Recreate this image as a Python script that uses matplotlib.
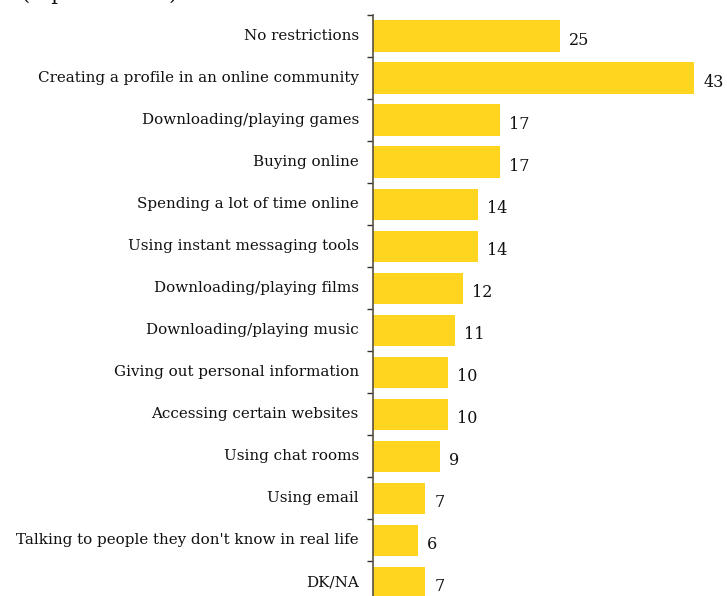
import matplotlib
matplotlib.use("Agg")
import matplotlib.pyplot as plt

categories = ["No restrictions", "Creating a profile in an online community",
              "Downloading/playing games", "Buying online",
              "Spending a lot of time online", "Using instant messaging tools",
              "Downloading/playing films", "Downloading/playing music",
              "Giving out personal information", "Accessing certain websites",
              "Using chat rooms", "Using email",
              "Talking to people they don't know in real life", "DK/NA"]
values = [25, 43, 17, 17, 14, 14, 12, 11, 10, 10, 9, 7, 6, 7]

plt.rcParams['font.family'] = ['DejaVu Serif']

fig = plt.figure(figsize=(7.27, 5.96), dpi=100)
ax = fig.add_axes([373/727, 0, (727-373)/727, 581/596])

ypos = list(range(len(categories)))
ax.barh(ypos, values, height=0.74, color="#FFD520")
ax.set_xlim(0, 47.4)
ax.set_ylim(13.33, -0.5)

for y, v in zip(ypos, values):
    ax.text(v + 1.2, y + 0.1, str(v), va="center", ha="left", fontsize=11.5, color="#111111")

for y, c in zip(ypos, categories):
    ax.text(-0.04, y, c, transform=ax.get_yaxis_transform(), ha="right", va="center",
            fontsize=10.9, color="#111111")

ax.set_yticks([i - 0.5 for i in range(len(categories))])
ax.set_yticklabels([])
ax.tick_params(axis="y", length=4, width=1, color="#333333", direction="out")
ax.set_xticks([])
for s in ["top", "right", "bottom"]:
    ax.spines[s].set_visible(False)
ax.spines["left"].set_color("#5a5040")
ax.spines["left"].set_linewidth(1.2)

fig.text(0.03, 1.0, "(top mentions)", ha="left", va="baseline", fontsize=15, color="#111111")

fig.savefig("out.png", dpi=100)
